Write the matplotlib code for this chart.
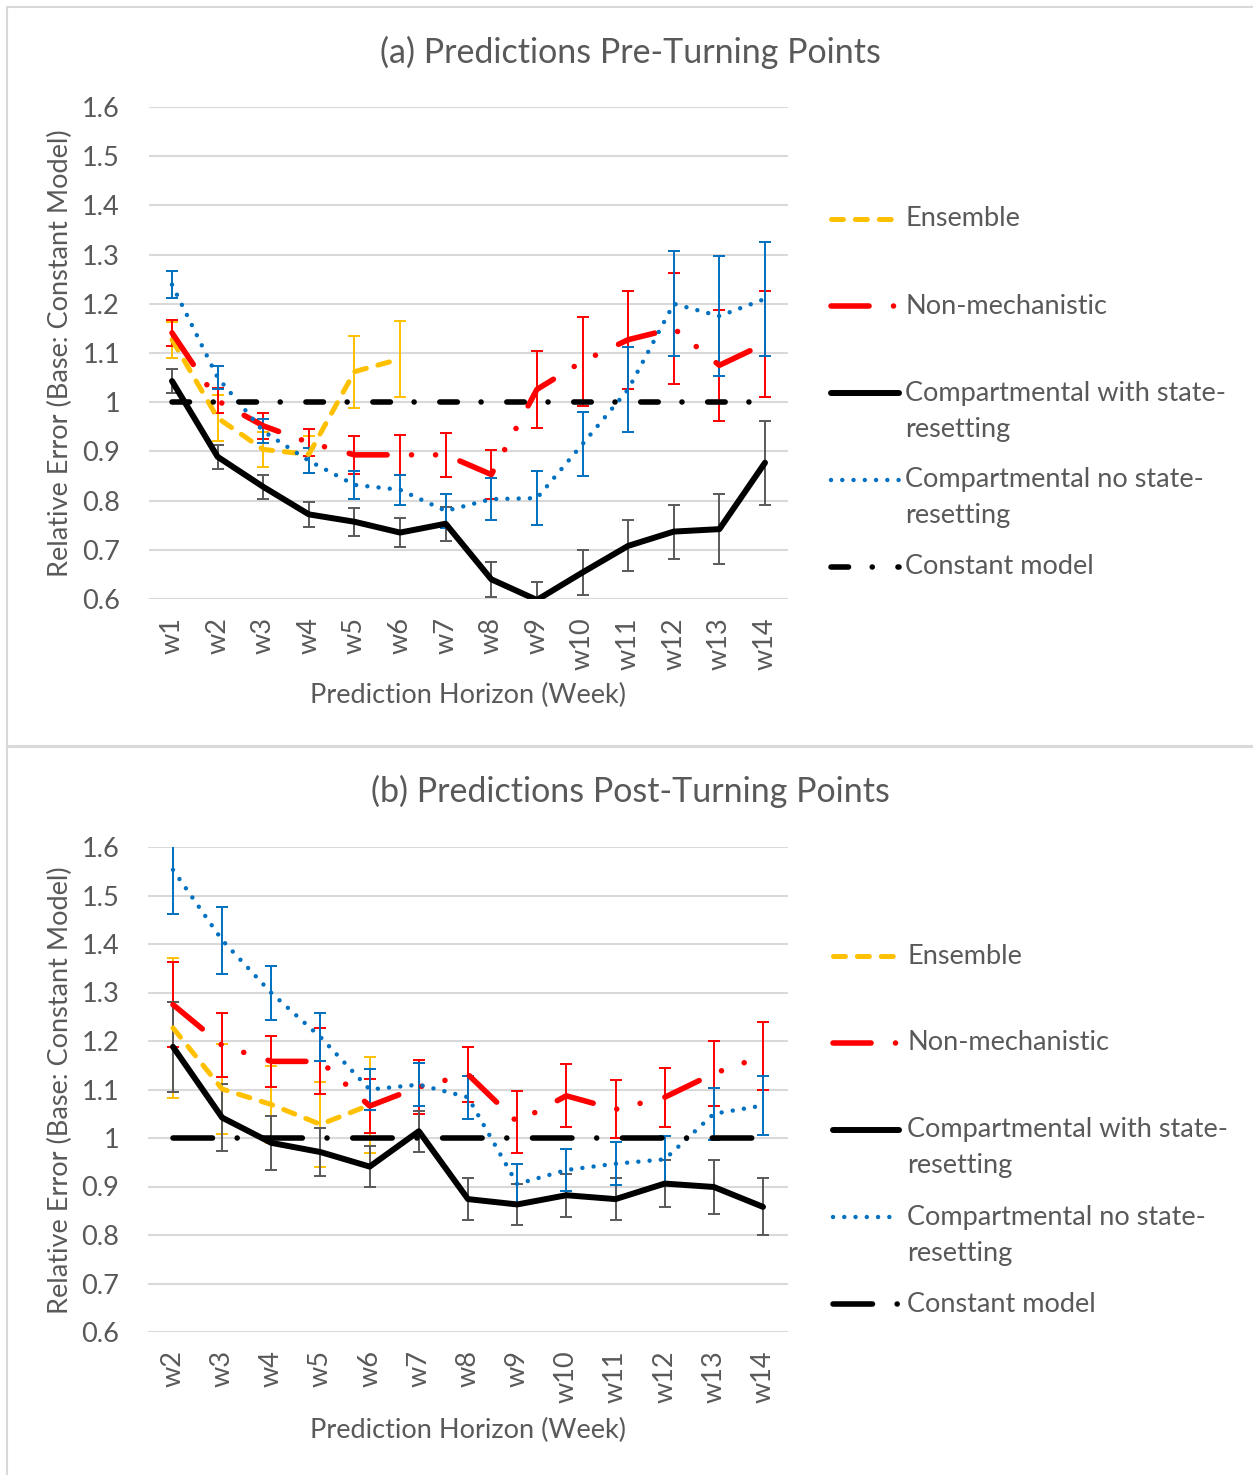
import matplotlib
matplotlib.use("Agg")
import matplotlib.pyplot as plt
from matplotlib.lines import Line2D

plt.rcParams['font.family'] = ['Lato', 'DejaVu Sans']
plt.rcParams['lines.scale_dashes'] = False

# Datos
weeks_a = ['w1', 'w2', 'w3', 'w4', 'w5', 'w6', 'w7', 'w8', 'w9', 'w10', 'w11', 'w12', 'w13', 'w14']
weeks_b = ['w2', 'w3', 'w4', 'w5', 'w6', 'w7', 'w8', 'w9', 'w10', 'w11', 'w12', 'w13', 'w14']

# (a) pre-turning points
ens_a = [1.127, 0.968, 0.904, 0.894, 1.062, 1.088]
ens_a_err = [0.037, 0.047, 0.036, 0.038, 0.073, 0.078]
nonmech_a = [1.141, 1.003, 0.952, 0.918, 0.893, 0.893, 0.893, 0.853, 1.026, 1.083, 1.127, 1.150, 1.075, 1.119]
nonmech_a_err = [0.026, 0.025, 0.026, 0.027, 0.039, 0.040, 0.045, 0.049, 0.079, 0.091, 0.100, 0.112, 0.113, 0.108]
compw_a = [1.043, 0.889, 0.828, 0.772, 0.757, 0.735, 0.753, 0.640, 0.598, 0.654, 0.708, 0.737, 0.742, 0.877]
compw_a_err = [0.025, 0.024, 0.025, 0.025, 0.028, 0.029, 0.035, 0.036, 0.036, 0.046, 0.052, 0.055, 0.071, 0.085]
compno_a = [1.239, 1.050, 0.941, 0.881, 0.832, 0.822, 0.779, 0.803, 0.805, 0.915, 1.026, 1.200, 1.175, 1.210]
compno_a_err = [0.027, 0.023, 0.024, 0.025, 0.029, 0.030, 0.034, 0.043, 0.055, 0.066, 0.086, 0.107, 0.122, 0.116]
const_a = [1.0] * 14

# (b) post-turning points
ens_b = [1.227, 1.101, 1.069, 1.028, 1.068]
ens_b_err = [0.145, 0.093, 0.080, 0.088, 0.098]
nonmech_b = [1.275, 1.191, 1.158, 1.158, 1.066, 1.105, 1.131, 1.033, 1.087, 1.059, 1.084, 1.133, 1.169]
nonmech_b_err = [0.088, 0.066, 0.053, 0.068, 0.056, 0.055, 0.057, 0.064, 0.065, 0.060, 0.061, 0.066, 0.070]
compw_b = [1.188, 1.042, 0.990, 0.971, 0.941, 1.014, 0.874, 0.863, 0.882, 0.874, 0.906, 0.899, 0.858]
compw_b_err = [0.093, 0.069, 0.055, 0.050, 0.042, 0.042, 0.044, 0.043, 0.044, 0.043, 0.048, 0.055, 0.059]
compno_b = [1.553, 1.408, 1.299, 1.208, 1.100, 1.110, 1.084, 0.905, 0.934, 0.947, 0.956, 1.050, 1.067]
compno_b_err = [0.091, 0.069, 0.055, 0.049, 0.042, 0.045, 0.044, 0.042, 0.044, 0.044, 0.048, 0.054, 0.060]
const_b = [1.0] * 13

labels = ['Ensemble', 'Non-mechanistic', 'Compartmental with state-\nresetting',
          'Compartmental no state-\nresetting', 'Constant model']

# Estilos
YEL, RED, BLK, BLU = '#FFC000', '#FF0000', '#000000', '#0070C0'
GRIS = '#595959'
FS = 19.5
st_ens = dict(color=YEL, lw=3.6, dashes=(8.6, 8.6))
st_nm = dict(color=RED, lw=4.0, dashes=(27.4, 17.6, 0.01, 17.3, 0.01, 18.4))
st_cw = dict(color=BLK, lw=4.3)
st_cn = dict(color=BLU, lw=3.2, dashes=(0.01, 8.1))
st_const_a = dict(color=BLK, lw=4.0, dashes=(12.6, 17.1, 0.01, 18.5))
st_const_b = dict(color=BLK, lw=4.0, dashes=(28.4, 17.8, 0.01, 18.5))

W, H = 1253, 1475
fig = plt.figure(figsize=(W / 100, H / 100), dpi=100)

# capa de fondo en pixeles
bg = fig.add_axes([0, 0, 1, 1])
bg.set_xlim(0, W)
bg.set_ylim(H, 0)
bg.axis('off')


def px_axes(x0, x1, y0, y1):
    return fig.add_axes([x0 / W, 1 - y1 / H, (x1 - x0) / W, (y1 - y0) / H])


def serie(ax, y, err, estilo, errcolor, offset=0):
    x = list(range(offset, offset + len(y)))
    ax.errorbar(x, y, yerr=err, fmt='none', ecolor=errcolor, elinewidth=1.4,
                capsize=4.3, capthick=1.4, zorder=2)
    ax.plot(x, y, solid_capstyle='round', dash_capstyle='round', zorder=3, **estilo)


def panel(ax, weeks, ens, ens_err, nm, nm_err, cw, cw_err, cn, cn_err, const, st_const):
    ax.set_xlim(-0.5, len(weeks) - 0.5)
    ax.set_ylim(0.6, 1.6)
    ax.set_yticks([0.6, 0.7, 0.8, 0.9, 1.0, 1.1, 1.2, 1.3, 1.4, 1.5, 1.6])
    ax.set_yticklabels(['0.6', '0.7', '0.8', '0.9', '1', '1.1', '1.2', '1.3', '1.4', '1.5', '1.6'])
    ax.set_xticks(range(len(weeks)))
    ax.set_xticklabels(weeks, rotation=90)
    ax.tick_params(length=0, labelsize=FS, labelcolor=GRIS)
    ax.tick_params(axis='y', pad=21)
    ax.tick_params(axis='x', pad=13)
    for s in ax.spines.values():
        s.set_visible(False)
    ax.grid(axis='y', color='#D9D9D9', lw=1.5)
    ax.set_axisbelow(True)
    ax.patch.set_alpha(0)
    serie(ax, ens, ens_err, st_ens, YEL)
    serie(ax, nm, nm_err, st_nm, RED)
    serie(ax, cw, cw_err, st_cw, GRIS)
    serie(ax, cn, cn_err, st_cn, BLU)
    ax.plot(range(len(const)), const, dash_capstyle='round', zorder=3, **st_const)


def leyenda(x0, x1, xt, ytop, st_const):
    estilos = [st_ens, st_nm, st_cw, st_cn, st_const]
    for i, (lab, st) in enumerate(zip(labels, estilos)):
        y = ytop + 87 * i
        bg.add_line(Line2D([x0, x1], [y, y], solid_capstyle='round',
                           dash_capstyle='round', **st))
        for j, linea in enumerate(lab.split('\n')):
            bg.text(xt, y + 36 * j, linea, fontsize=FS, color=GRIS, va='center', ha='left')


# bordes de los dos graficos
for (x0, y0, x1, y1) in [(7, 7, 1262, 746), (7, 747, 1262, 1485)]:
    bg.plot([x0, x1, x1, x0, x0], [y0, y0, y1, y1, y0], color='#D9D9D9', lw=1.5)

ax_a = px_axes(149.2, 787.8, 107, 599)
panel(ax_a, weeks_a, ens_a, ens_a_err, nonmech_a, nonmech_a_err, compw_a, compw_a_err,
      compno_a, compno_a_err, const_a, st_const_a)
ax_b = px_axes(148.4, 787.6, 847, 1332)
panel(ax_b, weeks_b, ens_b, ens_b_err, nonmech_b, nonmech_b_err, compw_b, compw_b_err,
      compno_b, compno_b_err, const_b, st_const_b)

bg.text(630, 52, '(a) Predictions Pre-Turning Points', fontsize=24.5, color=GRIS, ha='center', va='center')
bg.text(630, 791, '(b) Predictions Post-Turning Points', fontsize=24.5, color=GRIS, ha='center', va='center')
for yc in [353, 1090]:
    bg.text(60, yc, 'Relative Error (Base: Constant Model)', fontsize=FS, color=GRIS,
            rotation=90, ha='center', va='center')
bg.text(468, 695, 'Prediction Horizon (Week)', fontsize=FS, color=GRIS, ha='center', va='center')
bg.text(468, 1430, 'Prediction Horizon (Week)', fontsize=FS, color=GRIS, ha='center', va='center')

leyenda(831, 899, 905, 219, st_const_a)
leyenda(833, 899, 907, 956, st_const_b)

fig.savefig('out.png', dpi=100)
